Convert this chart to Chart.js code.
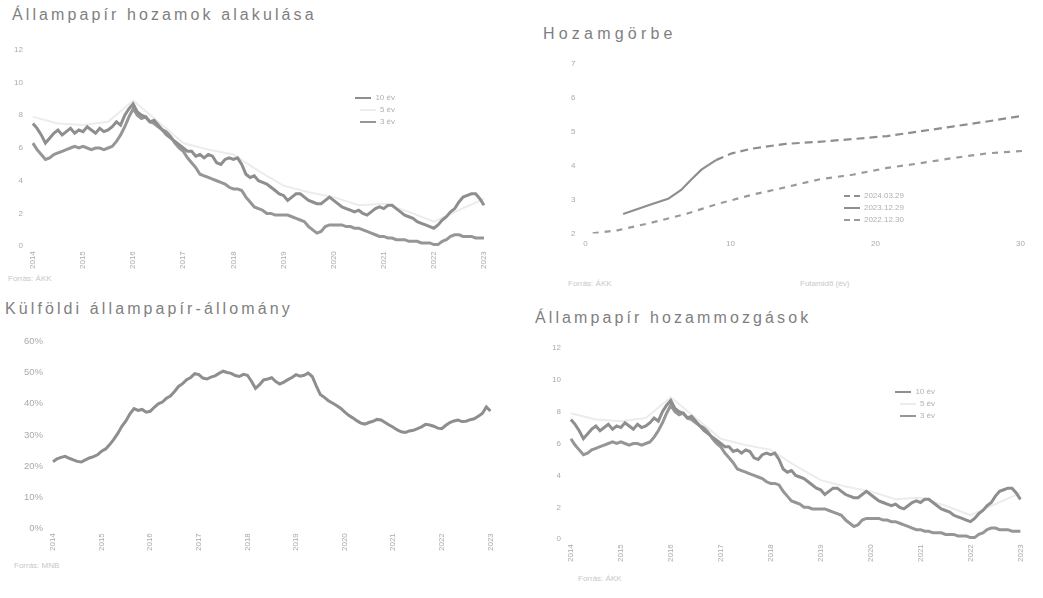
<!DOCTYPE html>
<html lang="hu">
<head>
<meta charset="utf-8">
<title>Állampapír-piac</title>
<script src="https://cdn.jsdelivr.net/npm/chart.js@4.4.0/dist/chart.umd.min.js"></script>
<style>
  body { margin: 0; width: 1043px; height: 598px; background: #fff; position: relative; overflow: hidden;
         font-family: "Liberation Sans", Arial, sans-serif; }
  .title { position: absolute; font-size: 16px; color: #7f7f7f; letter-spacing: 3.1px; white-space: nowrap; }
  .box { position: absolute; }
  .note { position: absolute; font-size: 8px; color: #c8c8c8; white-space: nowrap; }
  .legend { position: absolute; font-size: 8px; color: #b0b0b0; line-height: 12px; }
  .legend .row { display: flex; align-items: center; justify-content: flex-end; white-space: nowrap; }
  .legend .sw { display: inline-block; width: 16px; height: 0; margin-right: 4px; }
</style>
</head>
<body>

<div class="title" style="left:12px; top:6px;">Állampapír hozamok alakulása</div>
<div class="title" style="left:543px; top:25px; letter-spacing:4.2px;">Hozamgörbe</div>
<div class="title" style="left:5px; top:300px;">Külföldi állampapír-állomány</div>
<div class="title" style="left:535px; top:309px;">Állampapír hozammozgások</div>

<div class="box" style="left:0px; top:35px; width:500px; height:239px;"><canvas id="hozamok"></canvas></div>
<div class="box" style="left:545px; top:49px; width:498px; height:206px;"><canvas id="gorbe"></canvas></div>
<div class="box" style="left:0px; top:326px; width:505px; height:230px;"><canvas id="kulfoldi"></canvas></div>
<div class="box" style="left:530px; top:333px; width:505px; height:234px;"><canvas id="mozgasok"></canvas></div>

<div class="legend" id="leg1" style="left:340px; top:92px; width:55px;"></div>
<div class="legend" id="leg2" style="left:812px; top:190px; width:92px;"></div>
<div class="legend" id="leg4" style="left:880px; top:386px; width:55px;"></div>

<div class="note" style="left:8px; top:274px;">Forrás: ÁKK</div>
<div class="note" style="left:568px; top:279px;">Forrás: ÁKK</div>
<div class="note" style="left:800px; top:279px;">Futamidő (év)</div>
<div class="note" style="left:14px; top:561px;">Forrás: MNB</div>
<div class="note" style="left:578px; top:574px;">Forrás: ÁKK</div>

<script>
// years on the x axis (monthly data, first month of each year labelled)
const years = ['2014', '2015', '2016', '2017', '2018', '2019', '2020', '2021', '2022', '2023'];

// 10 éves hozam, %
const yield10 = [
  7.5, 7.2, 6.8, 6.3, 6.6, 6.9, 7.1, 6.8, 7.0, 7.2, 6.9, 7.1,
  7.0, 7.3, 7.1, 6.9, 7.2, 7.0, 7.1, 7.3, 7.6, 7.4, 8.0, 8.4,
  8.7, 8.2, 8.0, 7.9, 7.6, 7.7, 7.4, 7.1, 6.8, 6.6, 6.4, 6.2,
  6.0, 5.8, 5.8, 5.5, 5.6, 5.4, 5.6, 5.5, 5.1, 5.0, 5.3, 5.4,
  5.3, 5.4, 5.0, 4.4, 4.2, 4.3, 4.0, 3.9, 3.8, 3.6, 3.4, 3.2,
  3.1, 2.8, 3.0, 3.2, 3.2, 3.0, 2.8, 2.7, 2.6, 2.6, 2.8, 3.0,
  2.8, 2.6, 2.4, 2.3, 2.2, 2.1, 2.2, 2.0, 1.9, 2.1, 2.3, 2.4,
  2.3, 2.5, 2.5, 2.3, 2.1, 1.9, 1.8, 1.7, 1.5, 1.4, 1.3, 1.2,
  1.1, 1.3, 1.6, 1.8, 2.1, 2.3, 2.7, 3.0, 3.1, 3.2, 3.2, 2.9, 2.5
];

// 5 éves hozam, %, half-yearly readings only
const yield5Half = [7.9, 7.5, 7.4, 7.6, 8.9, 7.6, 6.3, 5.9, 5.6, 4.6, 3.7, 3.3, 3.0, 2.5, 2.6, 2.1, 1.5, 2.2, 2.9];

// 3 éves hozam, %
const yield3 = [
  6.3, 5.9, 5.6, 5.3, 5.4, 5.6, 5.7, 5.8, 5.9, 6.0, 6.1, 6.0,
  6.1, 6.0, 5.9, 6.0, 6.0, 5.9, 6.0, 6.1, 6.4, 6.8, 7.3, 7.9,
  8.4, 8.0, 7.8, 7.9, 7.6, 7.5, 7.3, 7.1, 7.0, 6.7, 6.3, 6.0,
  5.8, 5.4, 5.1, 4.8, 4.4, 4.3, 4.2, 4.1, 4.0, 3.9, 3.8, 3.6,
  3.5, 3.5, 3.4, 3.0, 2.7, 2.4, 2.3, 2.2, 2.0, 2.0, 1.9, 1.9,
  1.9, 1.9, 1.8, 1.7, 1.6, 1.5, 1.2, 1.0, 0.8, 0.9, 1.2, 1.3,
  1.3, 1.3, 1.3, 1.2, 1.2, 1.1, 1.1, 1.0, 0.9, 0.8, 0.7, 0.6,
  0.6, 0.5, 0.5, 0.4, 0.4, 0.4, 0.3, 0.3, 0.3, 0.2, 0.2, 0.2,
  0.1, 0.1, 0.3, 0.4, 0.6, 0.7, 0.7, 0.6, 0.6, 0.6, 0.5, 0.5, 0.5
];

// külföldiek aránya az állományban, %
const foreignShare = [
  21.4, 22.3, 22.8, 23.1, 22.5, 22.0, 21.5, 21.3, 22.0, 22.6, 23.0, 23.6,
  24.8, 25.5, 26.9, 28.6, 30.5, 32.8, 34.5, 36.8, 38.5, 37.9, 38.2, 37.3,
  37.6, 38.9, 40.0, 40.6, 41.8, 42.5, 44.0, 45.6, 46.5, 47.8, 48.5, 49.7,
  49.4, 48.3, 48.0, 48.6, 49.0, 49.8, 50.5, 50.1, 49.8, 49.1, 48.8, 49.5,
  49.2, 47.3, 45.0, 46.2, 47.7, 48.0, 48.4, 47.2, 46.4, 47.0, 47.8, 48.5,
  49.4, 48.9, 49.2, 49.9, 48.8, 45.8, 43.0, 42.1, 41.0, 40.3, 39.5, 38.6,
  37.4, 36.3, 35.5, 34.6, 33.8, 33.5, 34.0, 34.4, 35.0, 34.8, 34.0, 33.2,
  32.5, 31.6, 31.0, 30.8, 31.3, 31.5, 32.0, 32.6, 33.4, 33.2, 32.8, 32.2,
  32.0, 33.1, 34.0, 34.5, 34.8, 34.3, 34.4, 34.9, 35.2, 36.0, 36.9, 39.0, 37.7
];

// hozamgörbék: futamidő (év) és hozam (%)
const curveLongMat = [9.0, 10.1, 11.5, 13.8, 16.1, 18.4, 20.8, 23.1, 25.3, 27.7, 30.2];
const curveLong = [4.16, 4.36, 4.50, 4.64, 4.70, 4.78, 4.87, 5.01, 5.15, 5.30, 5.47];
const curveShortMat = [2.6, 4.5, 5.7, 6.6, 7.3, 8.0, 9.0];
const curveShort = [2.57, 2.85, 3.02, 3.28, 3.59, 3.88, 4.16];
const curveLowMat = [0.5, 2.2, 4.5, 6.9, 9.2, 11.5, 13.8, 16.1, 18.4, 20.8, 23.1, 25.3, 27.7, 30.5];
const curveLow = [2.00, 2.09, 2.31, 2.57, 2.88, 3.14, 3.36, 3.59, 3.73, 3.93, 4.07, 4.22, 4.36, 4.44];
const curveNames = ['2024.03.29', '2023.12.29', '2022.12.30'];

const months = [];
years.forEach((y, k) => {
  for (let m = 1; m <= 12; m++) {
    if (k === years.length - 1 && m > 1) break;
    months.push(y + '.' + String(m).padStart(2, '0'));
  }
});
const yield5 = months.map((_, i) => (i % 6 === 0 ? yield5Half[i / 6] : null));

Chart.defaults.font.family = '"Liberation Sans", Arial, sans-serif';
Chart.defaults.font.size = 8;
Chart.defaults.color = '#aaaaaa';
Chart.defaults.animation = false;
Chart.defaults.maintainAspectRatio = false;
Chart.defaults.plugins.legend.display = false;
Chart.defaults.plugins.tooltip.enabled = false;

const lineGrey = '#8e8e8e';

function seriesSets() {
  return [
    { label: '10 év', data: yield10, borderColor: lineGrey, borderWidth: 3, pointRadius: 0 },
    { label: '5 év', data: yield5, borderColor: '#ececec', borderWidth: 2, pointRadius: 0, spanGaps: true },
    { label: '3 év', data: yield3, borderColor: '#969696', borderWidth: 3, pointRadius: 0 }
  ];
}

function timeX() {
  return {
    type: 'category', offset: false,
    grid: { display: false, drawTicks: false }, border: { display: false },
    ticks: {
      autoSkip: false, maxRotation: 90, minRotation: 90, padding: 5,
      callback(v) {
        const l = this.getLabelForValue(v);
        return l.endsWith('.01') ? l.slice(0, 4) : null;
      }
    }
  };
}

function valueY(min, max, step, fmt, size) {
  return {
    min: min, max: max,
    grid: { display: false, drawTicks: false }, border: { display: false },
    ticks: { stepSize: step, padding: 10, callback: fmt, font: { size: size || 8 } }
  };
}

// reverse the dataset order while drawing so the dark lines sit on top of the faint one
const chart1 = new Chart(document.getElementById('hozamok'), {
  type: 'line',
  data: { labels: months, datasets: seriesSets() },
  options: {
    layout: { padding: { left: 4, right: 16, top: 4, bottom: 0 } },
    scales: { x: timeX(), y: valueY(0, 12, 2) }
  }
});

const chart4 = new Chart(document.getElementById('mozgasok'), {
  type: 'line',
  data: { labels: months, datasets: seriesSets() },
  options: {
    layout: { padding: { left: 12, right: 6, top: 4, bottom: 0 } },
    scales: { x: timeX(), y: valueY(0, 12, 2) }
  }
});

const chart3 = new Chart(document.getElementById('kulfoldi'), {
  type: 'line',
  data: {
    labels: months,
    datasets: [{ label: 'Külföldiek aránya', data: foreignShare, borderColor: lineGrey, borderWidth: 3, pointRadius: 0 }]
  },
  options: {
    layout: { padding: { left: 14, right: 10, top: 4, bottom: 0 } },
    scales: { x: timeX(), y: valueY(0, 60, 10, v => v + '%', 9.5) }
  }
});

const toXY = (mat, val) => mat.map((m, i) => ({ x: m, y: val[i] }));

const chart2 = new Chart(document.getElementById('gorbe'), {
  type: 'line',
  data: {
    datasets: [
      { label: curveNames[0], data: toXY(curveLongMat, curveLong), borderColor: lineGrey, borderWidth: 2.2, borderDash: [8, 5], pointRadius: 0 },
      { label: curveNames[1], data: toXY(curveShortMat, curveShort), borderColor: lineGrey, borderWidth: 2.2, pointRadius: 0 },
      { label: curveNames[2], data: toXY(curveLowMat, curveLow), borderColor: '#9a9a9a', borderWidth: 2.2, borderDash: [6, 6], pointRadius: 0 }
    ]
  },
  options: {
    layout: { padding: { left: 16, right: 8, top: 4, bottom: 0 } },
    scales: {
      x: {
        type: 'linear', min: 0, max: 31,
        grid: { display: false, drawTicks: false }, border: { display: false },
        ticks: { stepSize: 10, padding: 6, callback: v => (v % 10 === 0 ? v : null) }
      },
      y: valueY(2, 7, 1)
    }
  }
});

function htmlLegend(id, chart) {
  const el = document.getElementById(id);
  chart.data.datasets.forEach(ds => {
    const row = document.createElement('div');
    row.className = 'row';
    const sw = document.createElement('span');
    sw.className = 'sw';
    sw.style.borderTop = '2px ' + (ds.borderDash ? 'dashed ' : 'solid ') + ds.borderColor;
    row.appendChild(sw);
    row.appendChild(document.createTextNode(ds.label));
    el.appendChild(row);
  });
}
htmlLegend('leg1', chart1);
htmlLegend('leg2', chart2);
htmlLegend('leg4', chart4);
</script>
</body>
</html>
